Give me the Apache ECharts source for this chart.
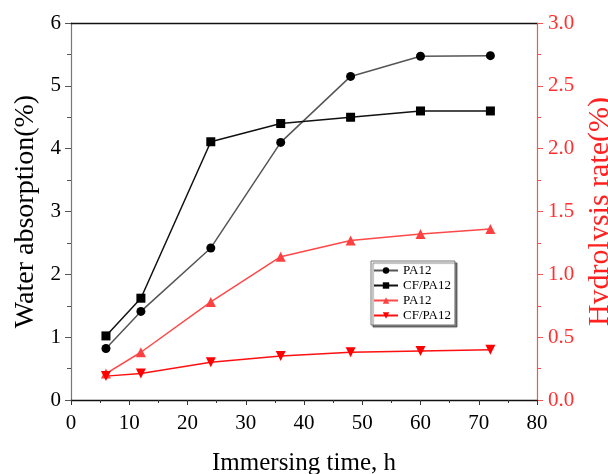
<!DOCTYPE html>
<html><head><meta charset="utf-8">
<script src="https://cdn.jsdelivr.net/npm/echarts@6/dist/echarts.min.js"></script>
<style>html,body{margin:0;padding:0;background:#fff}#c{width:608px;height:474px}</style>
</head><body><div id="c"></div>
<script>
var hours = [6, 12, 24, 36, 48, 60, 72];
var pa12Water = [0.82, 1.41, 2.42, 4.10, 5.15, 5.47, 5.48];
var cfpa12Water = [1.02, 1.62, 4.11, 4.40, 4.50, 4.60, 4.60];
var pa12Hydro = [0.21, 0.38, 0.78, 1.14, 1.27, 1.32, 1.36];
var cfpa12Hydro = [0.19, 0.21, 0.30, 0.35, 0.38, 0.39, 0.40];
var legendNames = ['PA12', 'CF/PA12', 'PA12 ', 'CF/PA12 '];

function pts(ys){ return hours.map(function(h,i){ return [h, ys[i]]; }); }
var F = '"Liberation Serif","Times New Roman",serif';
var chart = echarts.init(document.getElementById('c'), null, {renderer:'canvas'});
chart.setOption({
  animation:false,
  backgroundColor:'#fff',
  grid:{left:71, right:71, top:23, bottom:74, outerBoundsMode:'none', containLabel:false},
  legend:{
    orient:'vertical', left:371, top:261, data:legendNames,
    itemWidth:24, itemHeight:8, itemGap:2,
    padding:[3,4,3,2],
    borderColor:'#777', borderWidth:1, backgroundColor:'#fff',
    shadowColor:'rgba(0,0,0,0.5)', shadowOffsetX:2, shadowOffsetY:2, shadowBlur:1,
    textStyle:{fontFamily:F, fontSize:13, color:'#000'},
    formatter:function(n){ return n.trim(); }
  },
  xAxis:[{
    type:'value', min:0, max:80, interval:10, position:'bottom',
    name:'Immersing time, h', nameLocation:'middle', nameGap:51,
    nameTextStyle:{fontFamily:F, fontSize:25, color:'#000'},
    axisLine:{onZero:false, lineStyle:{color:'#111', width:1.3}},
    axisTick:{inside:false, length:5, lineStyle:{color:'#333'}},
    minorTick:{show:true, splitNumber:2, length:3, lineStyle:{color:'#333'}},
    axisLabel:{fontFamily:F, fontSize:21, color:'#000', margin:13},
    splitLine:{show:false}
  },{
    type:'value', min:0, max:80, position:'top',
    axisLine:{show:true, onZero:false, lineStyle:{color:'#111', width:1.3}},
    axisTick:{show:false}, axisLabel:{show:false}, splitLine:{show:false}
  }],
  yAxis:[{
    type:'value', min:0, max:6, interval:1, position:'left',
    name:'Water absorption(%)', nameLocation:'middle', nameGap:30, nameRotate:90,
    nameTextStyle:{fontFamily:F, fontSize:28, color:'#000'},
    axisLine:{show:true, onZero:false, lineStyle:{color:'#777', width:1.2}},
    axisTick:{show:true, inside:false, length:6, lineStyle:{color:'#555'}},
    minorTick:{show:true, splitNumber:2, length:4, lineStyle:{color:'#555'}},
    axisLabel:{fontFamily:F, fontSize:21, color:'#000', margin:10},
    splitLine:{show:false}
  },{
    type:'value', min:0, max:3, interval:0.5, position:'right',
    name:'Hydrolysis rate(%)', nameLocation:'middle', nameGap:46, nameRotate:90,
    nameTextStyle:{fontFamily:F, fontSize:30, color:'#ff2020'},
    axisLine:{show:true, onZero:false, lineStyle:{color:'#ff5050', width:1.2}},
    axisTick:{show:true, inside:false, length:6, lineStyle:{color:'#ff5050'}},
    minorTick:{show:true, splitNumber:2, length:4, lineStyle:{color:'#ff5050'}},
    axisLabel:{fontFamily:F, fontSize:21, color:'#ff3030', margin:11,
      formatter:function(v){ return v.toFixed(1); }},
    splitLine:{show:false}
  }],
  series:[{
    name:legendNames[0], type:'line', xAxisIndex:0, yAxisIndex:0, data:pts(pa12Water),
    symbol:'circle', symbolSize:9,
    lineStyle:{color:'#555', width:1.5}, itemStyle:{color:'#000'}
  },{
    name:legendNames[1], type:'line', xAxisIndex:0, yAxisIndex:0, data:pts(cfpa12Water),
    symbol:'rect', symbolSize:9,
    lineStyle:{color:'#111', width:1.5}, itemStyle:{color:'#000'}
  },{
    name:legendNames[2], type:'line', xAxisIndex:0, yAxisIndex:1, data:pts(pa12Hydro),
    symbol:'triangle', symbolSize:10,
    lineStyle:{color:'#ff4848', width:1.5}, itemStyle:{color:'#ff4040'}
  },{
    name:legendNames[3], type:'line', xAxisIndex:0, yAxisIndex:1, data:pts(cfpa12Hydro),
    symbol:'triangle', symbolRotate:180, symbolSize:10,
    lineStyle:{color:'#ff1010', width:1.5}, itemStyle:{color:'#ff0000'}
  }]
});
</script></body></html>
